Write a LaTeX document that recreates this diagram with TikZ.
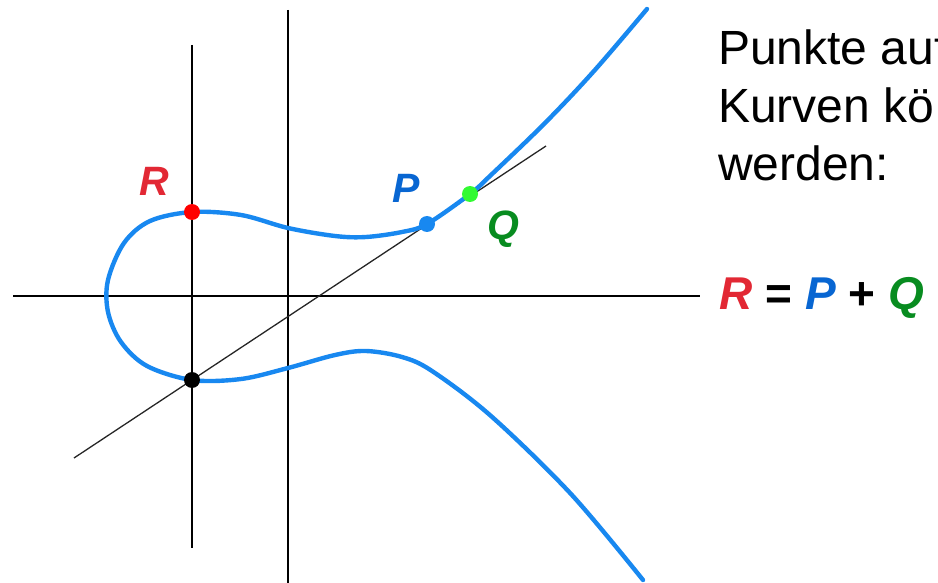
\documentclass[tikz,border=0pt]{standalone}
\usepackage{fontspec}
\setmainfont{Liberation Sans}
\definecolor{curveblue}{RGB}{24,136,240}
\definecolor{lblred}{RGB}{226,40,52}
\definecolor{lblblue}{RGB}{8,102,210}
\definecolor{lblgreen}{RGB}{8,140,32}
\definecolor{dotgreen}{RGB}{50,250,50}
\begin{document}
\begin{tikzpicture}[x=1pt,y=-1pt,
  axis/.style={line width=1.8pt,black},
  secant/.style={line width=1.3pt,black!85},
  curve/.style={line width=4.4pt,curveblue,line cap=round,line join=round},
  dot/.style={circle,inner sep=0pt,minimum size=16pt},
  lbl/.style={inner sep=0pt,anchor=base,font=\fontsize{41}{41}\selectfont\bfseries\itshape},
  txt/.style={inner sep=0pt,anchor=base west,font=\fontsize{48}{58}\selectfont}]
\useasboundingbox (0,0) rectangle (938,583);
\clip (0,0) rectangle (938,583);
% axes
\coordinate (xl) at (13,296); \coordinate (xr) at (700,296);
\coordinate (yt) at (288,10); \coordinate (yb) at (288,583);
\coordinate (vt) at (192,45); \coordinate (vb) at (192,548);
\draw[axis] (xl) -- (xr);
\draw[axis] (yt) -- (yb);
\draw[axis] (vt) -- (vb);
% secant
\coordinate (s1) at (74,458); \coordinate (s2) at (546,146);
\draw[secant] (s1) -- (s2);
% curve
\draw[curve] plot[smooth,tension=0.55] coordinates {
 (647,9) (594,71) (545,123) (491,175) (470,194) (427,224) (402,232)
 (366,237) (335,236) (288,228) (241,215) (192,212) (150,221) (124,243)
 (108,280) (108,312) (121,342) (147,366) (192,380) (241,379) (288,368)
 (335,355) (366,351) (402,357) (432,371) (491,416) (571,494) (643,580)};
% points
\node[dot,fill=red] (R) at (192,212) {};
\node[dot,fill=curveblue] (P) at (427,224) {};
\node[dot,fill=dotgreen] (Q) at (470,194) {};
\node[dot,fill=black] (S) at (192,380) {};
% labels
\node[lbl,text=lblred] (Rl) at (154,196) {R};
\node[lbl,text=lblblue] (Pl) at (406,203) {P};
\node[lbl,text=lblgreen] (Ql) at (503,240) {Q};
% text
\node[txt] (t1) at (718,65) {Punkte auf};
\node[txt] (t2) at (718,123) {Kurven kö};
\node[txt] (t3) at (718,181) {werden:};
\node[txt,font=\fontsize{46}{58}\selectfont\bfseries] (eq) at (719,309)
 {\textcolor{lblred}{\textit{R}}\hspace{0.28em}=\hspace{0.28em}\textcolor{lblblue}{\textit{P}}\hspace{0.28em}+\hspace{0.28em}\textcolor{lblgreen}{\textit{Q}}};
\end{tikzpicture}
\end{document}
